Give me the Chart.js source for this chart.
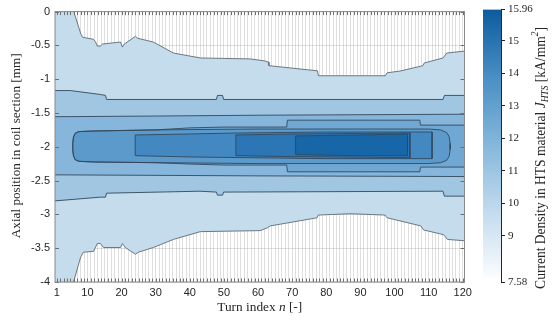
<!DOCTYPE html>
<html>
<head>
<meta charset="utf-8">
<script src="https://cdn.jsdelivr.net/npm/chart.js@4.4.0/dist/chart.umd.min.js"></script>
<style>
  body { margin: 0; background: #fff; }
  #wrap { position: relative; width: 553px; height: 322px; }
  #wrap canvas { position: absolute; top: 0; }
  #main { left: 0; }
  #bar { left: 470px; }
</style>
</head>
<body>
<div id="wrap">
  <canvas id="main" width="553" height="322"></canvas>
  <canvas id="bar" width="83" height="322"></canvas>
</div>
<script>
// axes
const turnRange = [0.5, 120.5];
const axialRange = [-4, 0];
const xTickLabels = [1, 10, 20, 30, 40, 50, 60, 70, 80, 90, 100, 110, 120];
const yTickValues = [0, -0.5, -1, -1.5, -2, -2.5, -3, -3.5, -4];
const cbRange = [7.58, 15.96];
const cbTicks = [7.58, 9, 10, 11, 12, 13, 14, 15, 15.96];
const cbTickLabels = ['7.58', '9', '10', '11', '12', '13', '14', '15', '15.96'];

// contour boundaries, [turn, axial position] (outer -> inner)
const level1Top = [[0.5,0],[6.0,0],[6.2,-0.03],[8.0,-0.32],[8.6,-0.38],[11.8,-0.41],[12.4,-0.45],[12.9,-0.51],[13.8,-0.51],[14.4,-0.48],[19.7,-0.45],[20.25,-0.525],[20.8,-0.48],[24.1,-0.365],[24.7,-0.394],[29.3,-0.45],[35.2,-0.613],[43.1,-0.686],[57.7,-0.70],[62.0,-0.73],[63.0,-0.745],[63.2,-0.80],[77.4,-0.876],[77.7,-0.949],[97.3,-0.949],[97.8,-0.905],[101.6,-0.88],[108.3,-0.80],[108.7,-0.76],[114.2,-0.686],[115.3,-0.613],[120.5,-0.584]];
const level1Bottom = [[0.5,-4],[5.8,-4],[6.1,-3.97],[8.0,-3.635],[8.8,-3.56],[11.8,-3.547],[12.9,-3.43],[13.8,-3.43],[14.7,-3.49],[19.7,-3.49],[20.25,-3.43],[21.1,-3.49],[24.1,-3.59],[24.9,-3.56],[29.3,-3.49],[35.2,-3.37],[43.1,-3.255],[60.6,-3.24],[62.7,-3.20],[63.6,-3.17],[77.3,-3.05],[77.6,-3.01],[87,-2.99],[97.2,-3.01],[97.8,-3.05],[107.7,-3.17],[108.5,-3.23],[114.4,-3.30],[115.5,-3.37],[120.5,-3.39]];

const level2Top = [[0.5,-1.168],[5,-1.168],[13.8,-1.226],[15.3,-1.24],[15.6,-1.30],[47.8,-1.30],[48.1,-1.24],[49.6,-1.24],[49.9,-1.30],[114.2,-1.30],[114.6,-1.24],[120.5,-1.24]];
const level2Bottom = [[0.5,-2.80],[13.8,-2.745],[15.3,-2.745],[15.6,-2.686],[43,-2.657],[47.8,-2.67],[48.1,-2.715],[49.6,-2.715],[49.9,-2.67],[114.2,-2.657],[114.6,-2.73],[120.5,-2.73]];

const level3Top = [[0.5,-1.555],[30,-1.545],[60,-1.533],[120.5,-1.518]];
const level3Bottom = [[0.5,-2.415],[60,-2.43],[120.5,-2.44]];

const level4Top = [[5.7,-1.95],[5.9,-1.86],[6.4,-1.80],[7.5,-1.775],[12,-1.766],[30,-1.75],[40,-1.72],[50,-1.708],[68.4,-1.708],[68.6,-1.606],[107.4,-1.606],[107.6,-1.679],[120.5,-1.679]];
const level4Bottom = [[5.7,-2.04],[5.9,-2.13],[6.4,-2.19],[7.5,-2.215],[12,-2.225],[30,-2.235],[40,-2.255],[50,-2.27],[68.4,-2.27],[68.6,-2.37],[107.4,-2.37],[107.6,-2.30],[120.5,-2.30]];

const level5Top = [[5.7,-1.95],[5.9,-1.86],[6.4,-1.80],[7.5,-1.775],[12,-1.766],[30,-1.75],[60,-1.737],[110,-1.737],[113.5,-1.75],[115.3,-1.79],[116.0,-1.85],[116.3,-1.95]];
const level5Bottom = [[5.7,-2.04],[5.9,-2.13],[6.4,-2.19],[7.5,-2.215],[12,-2.225],[30,-2.235],[60,-2.248],[110,-2.248],[113.5,-2.235],[115.3,-2.20],[116.0,-2.14],[116.3,-2.04]];

const level6Top = [[24,-1.825],[40,-1.81],[55,-1.795],[80,-1.781],[111,-1.781]];
const level6Bottom = [[24,-2.131],[40,-2.15],[55,-2.16],[80,-2.175],[111,-2.175]];

const level7Top = [[53.5,-1.825],[70,-1.81],[104.5,-1.796]];
const level7Bottom = [[53.5,-2.131],[70,-2.146],[104.5,-2.16]];

const level8Top = [[71,-1.839],[90,-1.825],[103.8,-1.81]];
const level8Bottom = [[71,-2.117],[90,-2.131],[103.8,-2.131]];

const levels = [
  [level1Top, level1Bottom], [level2Top, level2Bottom], [level3Top, level3Bottom], [level4Top, level4Bottom],
  [level5Top, level5Bottom], [level6Top, level6Bottom], [level7Top, level7Bottom], [level8Top, level8Bottom]
];
const levelColors = ['#c5dced', '#a0c6e2', '#86b6db', '#70a8d3', '#5b9acb', '#4388c1', '#2d76b5', '#1766a8'];
const contourLine = '#33475b';
const gridColor = 'rgba(160,160,160,0.34)';
const textColor = '#262626';

function onEdge(a, b) {
  return (a.x === turnRange[0] && b.x === turnRange[0]) || (a.x === turnRange[1] && b.x === turnRange[1]) ||
         (a.y === axialRange[0] && b.y === axialRange[0]) || (a.y === axialRange[1] && b.y === axialRange[1]);
}

const datasets = [];
levels.forEach(([top, bottom], i) => {
  const pts = top.concat(bottom.slice().reverse());
  pts.push(pts[0]);
  const data = pts.map(([x, y]) => ({x, y}));
  // filled region
  datasets.push({
    data, showLine: true, fill: 'shape', backgroundColor: levelColors[i],
    borderWidth: 0, pointRadius: 0, order: 100 - i
  });
  // contour line
  datasets.push({
    data, showLine: true, fill: false, borderColor: i === 0 ? '#5f6b77' : contourLine, borderWidth: 0.9,
    pointRadius: 0, order: 10 - i,
    segment: { borderColor: c => onEdge(c.p0.parsed, c.p1.parsed) ? 'rgba(0,0,0,0)' : undefined }
  });
});

const turns = [];
for (let t = 1; t <= 120; t++) turns.push(t);

function drawRich(ctx, parts, target) {
  const family = '"Liberation Serif", "DejaVu Serif", serif';
  const measure = s => {
    let w = 0;
    for (const [txt, st] of parts) {
      const sz = (st === 'sub' || st === 'sup') ? s * 0.7 : s;
      ctx.font = (st !== 'n' ? 'italic ' : '') + sz + 'px ' + family;
      w += ctx.measureText(txt).width;
    }
    return w;
  };
  const s = 10 * target / measure(10);
  let x = -measure(s) / 2;
  ctx.textAlign = 'left';
  ctx.textBaseline = 'middle';
  ctx.fillStyle = textColor;
  for (const [txt, st] of parts) {
    const sz = (st === 'sub' || st === 'sup') ? s * 0.7 : s;
    ctx.font = (st !== 'n' ? 'italic ' : '') + sz + 'px ' + family;
    const dy = st === 'sub' ? s * 0.3 : st === 'sup' ? -s * 0.38 : 0;
    ctx.fillText(txt, x, dy);
    x += ctx.measureText(txt).width;
  }
}

const decor = {
  id: 'decor',
  afterDraw(chart) {
    const {ctx, chartArea: a, scales: {x, y}} = chart;
    ctx.save();
    ctx.strokeStyle = '#6e6e6e';
    ctx.lineWidth = 1;
    ctx.beginPath();
    for (const t of turns) {
      const px = Math.round(x.getPixelForValue(t)) + 0.5;
      ctx.moveTo(px, a.bottom); ctx.lineTo(px, a.bottom - 3.5);
      ctx.moveTo(px, a.top); ctx.lineTo(px, a.top + 3.5);
    }
    for (const v of yTickValues) {
      const py = Math.round(y.getPixelForValue(v)) + 0.5;
      ctx.moveTo(a.left, py); ctx.lineTo(a.left + 4, py);
      ctx.moveTo(a.right, py); ctx.lineTo(a.right - 4, py);
    }
    ctx.stroke();
    ctx.strokeStyle = '#8a8a8a';
    ctx.strokeRect(a.left, a.top, a.right - a.left, a.bottom - a.top);
    ctx.restore();

    ctx.save();
    ctx.translate(17, (a.top + a.bottom) / 2 - 1);
    ctx.rotate(-Math.PI / 2);
    drawRich(ctx, [['Axial position in coil section [mm]', 'n']], 185);
    ctx.restore();

    ctx.save();
    ctx.translate((a.left + a.right) / 2, 307);
    drawRich(ctx, [['Turn index ', 'n'], ['n', 'i'], [' [-]', 'n']], 85);
    ctx.restore();
  }
};

new Chart(document.getElementById('main'), {
  type: 'scatter',
  data: { datasets },
  options: {
    responsive: false, animation: false, events: [],
    layout: { padding: { left: 0, top: 8, right: 88.5, bottom: 0 } },
    plugins: { legend: { display: false }, tooltip: { enabled: false } },
    scales: {
      x: {
        type: 'linear', min: turnRange[0], max: turnRange[1], z: 1,
        afterBuildTicks: s => { s.ticks = turns.map(v => ({value: v})); },
        afterFit: s => { s.height = 40; },
        ticks: {
          autoSkip: false, maxRotation: 0, padding: 4, color: textColor,
          font: { family: '"Liberation Sans", Arial, sans-serif', size: 11 },
          callback: v => xTickLabels.includes(v) ? String(v) : ''
        },
        grid: { color: gridColor, drawTicks: false },
        border: { display: false }
      },
      y: {
        type: 'linear', min: axialRange[0], max: axialRange[1], z: 1,
        afterBuildTicks: s => { s.ticks = yTickValues.map(v => ({value: v})); },
        afterFit: s => { s.width = 55; },
        ticks: {
          padding: 5, color: textColor,
          font: { family: '"Liberation Sans", Arial, sans-serif', size: 11 },
          callback: v => String(v)
        },
        grid: { color: gridColor, drawTicks: false },
        border: { display: false }
      }
    }
  },
  plugins: [decor]
});

// colorbar
const cbTitle = {
  id: 'cbTitle',
  afterDraw(chart) {
    const ctx = chart.ctx;
    ctx.save();
    ctx.translate(71, 158);
    ctx.rotate(-Math.PI / 2);
    drawRich(ctx, [['Current Density in HTS material ', 'n'], ['J', 'i'], ['HTS', 'sub'], [' [kA/mm', 'n'], ['2', 'sup'], [']', 'n']], 262);
    ctx.restore();
  }
};

new Chart(document.getElementById('bar'), {
  type: 'bar',
  data: {
    labels: ['J'],
    datasets: [{
      data: [cbRange],
      borderWidth: 0, barPercentage: 1, categoryPercentage: 1,
      backgroundColor: c => {
        const area = c.chart.chartArea;
        if (!area) return null;
        const g = c.chart.ctx.createLinearGradient(0, area.bottom, 0, area.top);
        g.addColorStop(0, '#ffffff');
        g.addColorStop(0.25, '#c4dcee');
        g.addColorStop(0.5, '#86b8dc');
        g.addColorStop(0.75, '#4a8fc5');
        g.addColorStop(1, '#0b5c9e');
        return g;
      }
    }]
  },
  options: {
    responsive: false, animation: false, events: [],
    layout: { padding: { left: 13, top: 8, right: 0, bottom: 40 } },
    plugins: { legend: { display: false }, tooltip: { enabled: false } },
    scales: {
      x: { display: false },
      y: {
        position: 'right', min: cbRange[0], max: cbRange[1],
        afterBuildTicks: s => { s.ticks = cbTicks.map(v => ({value: v})); },
        afterFit: s => { s.width = 52; },
        ticks: {
          padding: 3, color: textColor,
          font: { family: '"Liberation Serif", serif', size: 11 },
          callback: v => cbTickLabels[cbTicks.indexOf(v)]
        },
        grid: { drawOnChartArea: false, tickLength: 4, color: textColor },
        border: { display: true, color: textColor }
      }
    }
  },
  plugins: [cbTitle]
});
</script>
</body>
</html>
